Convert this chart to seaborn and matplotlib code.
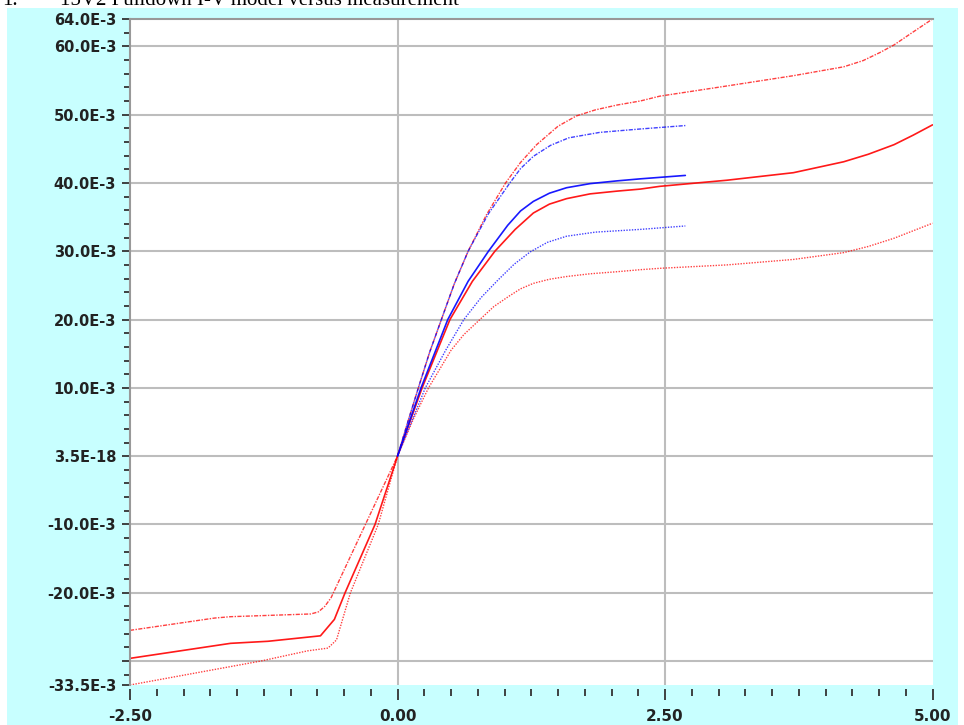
import numpy as np
import pandas as pd
import matplotlib
matplotlib.use("Agg")
import matplotlib.pyplot as plt
from matplotlib.patches import Rectangle
from matplotlib.ticker import MultipleLocator, FixedLocator, FixedFormatter
import seaborn as sns

# ---- I-V data (volts, milliamps) ----
model_hi_v = [-2.5, -1.71, -1.56, -0.81, -0.74, -0.68, -0.62, -0.30, 0.0, 0.10, 0.195, 0.30,
              0.41, 0.53, 0.66, 0.83, 1.01, 1.15, 1.30, 1.50, 1.67, 1.85, 2.05, 2.27, 2.45,
              3.08, 3.70, 4.17, 4.35, 4.51, 4.64, 4.80, 5.0]
model_hi_i = [-25.5, -23.7, -23.5, -23.1, -22.8, -22.0, -20.7, -10.0, 0.0, 5.2, 10.0, 15.2,
              20.0, 25.2, 30.0, 35.3, 40.0, 43.0, 45.6, 48.3, 49.8, 50.7, 51.4, 52.0, 52.7,
              54.2, 55.7, 57.0, 57.9, 59.1, 60.2, 61.9, 64.0]

model_typ_v = [-2.5, -1.56, -1.21, -0.72, -0.59, -0.49, -0.21, 0.0, 0.23, 0.49, 0.70, 0.91,
               1.10, 1.27, 1.42, 1.58, 1.80, 2.05, 2.27, 2.45, 3.08, 3.70, 4.17, 4.40, 4.64,
               4.82, 5.0]
model_typ_i = [-29.6, -27.4, -27.1, -26.3, -23.9, -20.0, -10.0, 0.0, 10.0, 20.0, 25.6, 30.0,
               33.2, 35.6, 36.9, 37.7, 38.4, 38.8, 39.1, 39.5, 40.4, 41.5, 43.1, 44.2, 45.6,
               47.0, 48.5]

model_lo_v = [-2.5, -1.28, -0.84, -0.65, -0.57, -0.44, -0.18, 0.0, 0.15, 0.29, 0.50, 0.62,
              0.77, 0.90, 1.04, 1.15, 1.27, 1.42, 1.58, 1.80, 2.05, 2.27, 2.45, 3.08, 3.70,
              4.17, 4.40, 4.64, 4.82, 5.0]
model_lo_i = [-33.5, -30.0, -28.5, -28.1, -26.9, -20.0, -10.0, 0.0, 5.5, 10.0, 15.5, 17.8,
              20.0, 21.9, 23.4, 24.5, 25.3, 25.9, 26.3, 26.7, 27.0, 27.3, 27.5, 28.0, 28.8,
              29.8, 30.7, 31.9, 33.0, 34.1]

meas_hi_v = [0.0, 0.10, 0.195, 0.30, 0.41, 0.53, 0.66, 0.85, 1.05, 1.15, 1.27, 1.43, 1.60,
             1.89, 2.27, 2.69]
meas_hi_i = [0.0, 5.2, 10.0, 15.2, 20.0, 25.2, 30.0, 35.5, 40.0, 42.1, 43.9, 45.5, 46.6,
             47.4, 47.9, 48.4]

meas_typ_v = [0.0, 0.22, 0.47, 0.66, 0.85, 1.03, 1.15, 1.27, 1.42, 1.58, 1.80, 2.05, 2.27, 2.69]
meas_typ_i = [0.0, 10.0, 20.0, 25.6, 30.0, 33.8, 35.9, 37.3, 38.5, 39.3, 39.9, 40.3, 40.6, 41.1]

meas_lo_v = [0.0, 0.26, 0.45, 0.62, 0.78, 0.94, 1.09, 1.24, 1.40, 1.58, 1.85, 2.27, 2.69]
meas_lo_i = [0.0, 10.0, 15.5, 20.0, 23.2, 25.8, 28.1, 29.9, 31.3, 32.2, 32.8, 33.2, 33.7]

y_tick_values = [-33.5, -30.0, -20.0, -10.0, 0.0, 10.0, 20.0, 30.0, 40.0, 50.0, 60.0, 64.0]
y_tick_labels = ["-33.5E-3", "", "-20.0E-3", "-10.0E-3", "3.5E-18", "10.0E-3", "20.0E-3",
                 "30.0E-3", "40.0E-3", "50.0E-3", "60.0E-3", "64.0E-3"]
x_tick_values = [-2.5, 0.0, 2.5, 5.0]
x_tick_labels = ["-2.50", "0.00", "2.50", "5.00"]

curves = {
    "model max": (model_hi_v, model_hi_i),
    "model typ": (model_typ_v, model_typ_i),
    "model min": (model_lo_v, model_lo_i),
    "meas max": (meas_hi_v, meas_hi_i),
    "meas typ": (meas_typ_v, meas_typ_i),
    "meas min": (meas_lo_v, meas_lo_i),
}
frames = []
for name, (v, i) in curves.items():
    frames.append(pd.DataFrame({"V": v, "I": np.asarray(i) * 1e-3, "curve": name}))
df = pd.concat(frames, ignore_index=True)

palette = {"model max": "#FF0000", "model typ": "#FF0000", "model min": "#FF0000",
           "meas max": "#0000FF", "meas typ": "#0000FF", "meas min": "#0000FF"}
dashes = {"model max": (3, 1, 1, 1), "model typ": "", "model min": (1, 1),
          "meas max": (3, 1, 1, 1), "meas typ": "", "meas min": (1, 1)}
widths = {"model max": 1.0, "model typ": 1.2, "model min": 1.0,
          "meas max": 1.0, "meas typ": 1.2, "meas min": 1.0}

sns.set_style("white")
plt.rcParams["font.family"] = ["DejaVu Sans"]

fig = plt.figure(figsize=(9.64, 7.25), dpi=100)
fig.patch.set_facecolor("white")
fig.patches.append(Rectangle((7 / 964, 0), (958 - 7) / 964, (725 - 8) / 725,
                             transform=fig.transFigure, facecolor="#C8FFFF",
                             edgecolor="none", zorder=0))

ax = fig.add_axes([130 / 964, 40 / 725, (932.5 - 130) / 964, (685 - 19) / 725])
ax.set_facecolor("white")
ax.set_zorder(1)

sns.lineplot(data=df, x="V", y="I", hue="curve", style="curve", palette=palette,
             dashes=dashes, sort=False, estimator=None, legend=False, ax=ax,
             linewidth=1.1)
for line, name in zip(ax.get_lines(), curves.keys()):
    line.set_linewidth(widths[name])
    line.set_alpha(0.9 if name.endswith("typ") else 0.75)

ax.set_xlim(-2.5, 5.0)
ax.set_ylim(-33.5e-3, 64.0e-3)

# grid
for gy in [-30, -20, -10, 0, 10, 20, 30, 40, 50, 60]:
    ax.axhline(gy * 1e-3, color="#BDBDBD", lw=1.5, zorder=0.5)
for gx in [0.0, 2.5]:
    ax.axvline(gx, color="#BDBDBD", lw=1.5, zorder=0.5)

ax.yaxis.set_major_locator(FixedLocator([v * 1e-3 for v in y_tick_values]))
ax.yaxis.set_major_formatter(FixedFormatter(y_tick_labels))
ax.yaxis.set_minor_locator(MultipleLocator(2e-3))
ax.xaxis.set_major_locator(FixedLocator(x_tick_values))
ax.xaxis.set_major_formatter(FixedFormatter(x_tick_labels))
ax.xaxis.set_minor_locator(MultipleLocator(0.25))

ax.set_xlabel("")
ax.set_ylabel("")

for side in ["right", "bottom"]:
    ax.spines[side].set_visible(False)
ax.spines["left"].set_color("#999999")
ax.spines["left"].set_linewidth(1.5)
ax.spines["top"].set_color("#999999")
ax.spines["top"].set_linewidth(1.5)
ax.spines["bottom"].set_position(("outward", 3))

ax.tick_params(axis="y", which="major", direction="out", length=6, width=1.3,
               color="#333333", pad=4, labelsize=10.5, labelcolor="#222222", left=True)
ax.tick_params(axis="y", which="minor", direction="out", length=4, width=1.3,
               color="#333333", left=True)
ax.tick_params(axis="x", which="major", direction="out", length=8, width=1.3,
               color="#333333", pad=6, labelsize=11, labelcolor="#222222", bottom=True)
ax.tick_params(axis="x", which="minor", direction="out", length=5, width=1.3,
               color="#333333", bottom=True)
for lbl in ax.get_yticklabels() + ax.get_xticklabels():
    lbl.set_fontweight("bold")

# heading, running off the top edge of the page
fig.text(2 / 964, 1 - 5 / 725, "1.", family="Liberation Serif", fontsize=15,
         va="baseline", ha="left", color="black")
fig.text(60 / 964, 1 - 5 / 725, "15V2 Pulldown I-V model versus measurement",
         family="Liberation Serif", fontsize=15, va="baseline", ha="left", color="black")

fig.savefig("out.png", dpi=100, facecolor="white")
